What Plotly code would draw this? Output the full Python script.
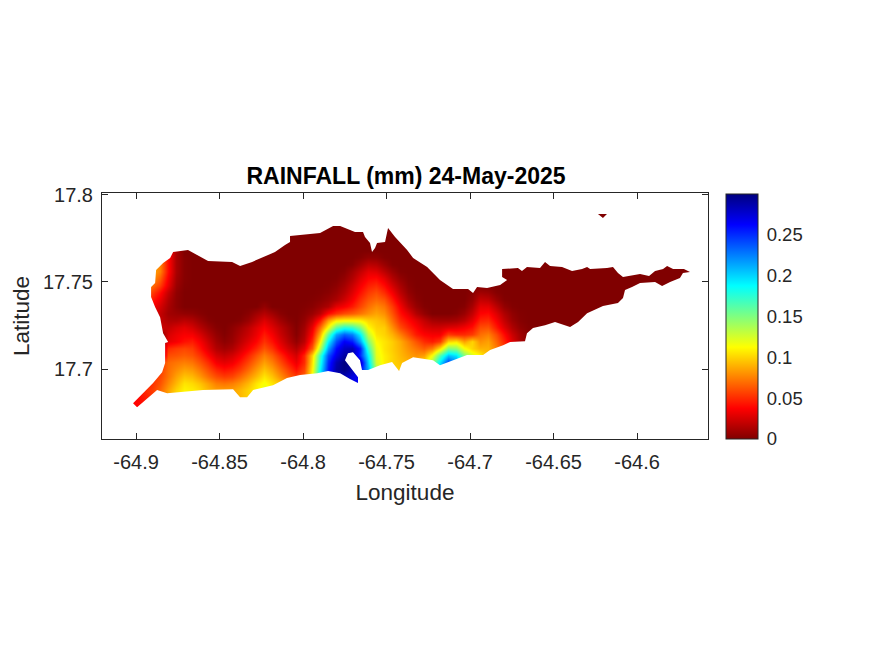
import plotly.graph_objects as go

# grid, columns run west to east and rows north to south
lon = [round(-64.9 + 0.00479 * i, 4) for i in range(71)]
lat = [17.792, 17.788, 17.784, 17.78, 17.776, 17.772, 17.768, 17.764, 17.76, 17.756,
       17.752, 17.748, 17.744, 17.74, 17.736, 17.732, 17.728, 17.724, 17.72, 17.716,
       17.712, 17.708, 17.704, 17.7, 17.696, 17.692, 17.688, 17.684, 17.68]

# rainfall in thousandths of a mm, columns to the east of each row are dry
rain = [
    [],
    [],
    [],
    [],
    [],
    [],
    [0, 0, 70, 60, 40, 12],
    [0, 0, 80, 70, 40, 12, 2, 0, 0, 0,  0, 0, 0, 0, 0, 0, 0, 0, 0, 0,  0, 0, 0, 0, 0, 0, 0, 0, 2, 6,  5, 1],
    [0, 85, 85, 75, 40, 12, 2, 0, 0, 0,  0, 0, 0, 0, 0, 0, 0, 0, 0, 0,  0, 0, 0, 0, 0, 0, 0, 2, 10, 18,  16, 8, 1],
    [0, 90, 88, 75, 40, 12, 2, 0, 0, 0,  0, 0, 0, 0, 0, 0, 0, 0, 0, 0,  0, 0, 0, 0, 0, 0, 2, 10, 20, 30,  28, 18, 8, 1],
    [85, 85, 80, 65, 35, 10, 2, 0, 0, 0,  0, 0, 0, 0, 0, 0, 0, 0, 0, 0,  0, 0, 0, 0, 0, 1, 6, 15, 28, 38,  40, 30, 16, 6, 1],
    [75, 75, 70, 55, 30, 8, 1, 0, 0, 0,  0, 0, 0, 0, 0, 0, 0, 0, 0, 0,  0, 0, 0, 0, 1, 4, 11, 22, 35, 46,  50, 40, 25, 12, 3],
    [65, 65, 55, 40, 20, 5, 0, 0, 0, 0,  0, 0, 0, 0, 0, 0, 0, 0, 0, 0,  0, 0, 0, 1, 3, 8, 16, 28, 42, 54,  60, 50, 35, 18, 6, 1, 0, 0, 0, 0,  0, 0, 3, 10, 8, 2],
    [55, 50, 45, 32, 15, 4, 0, 0, 0, 0,  0, 0, 0, 0, 0, 0, 0, 0, 0, 0,  0, 0, 1, 3, 7, 13, 23, 35, 50, 62,  68, 62, 45, 26, 11, 3, 0, 0, 0, 0,  0, 0, 6, 20, 18, 8, 1],
    [40, 40, 35, 25, 12, 4, 0, 0, 0, 0,  0, 0, 0, 0, 0, 0, 6, 0, 0, 0,  0, 1, 3, 8, 14, 30, 36, 45, 58, 70,  78, 72, 55, 35, 18, 7, 1, 0, 0, 0,  0, 2, 12, 30, 30, 18, 6, 1],
    [30, 30, 30, 20, 10, 8, 6, 5, 2, 0,  0, 0, 0, 0, 3, 10, 16, 10, 3, 0,  0, 3, 8, 18, 40, 52, 60, 65, 72, 80,  86, 80, 62, 42, 30, 15, 6, 0, 0, 0,  2, 8, 20, 38, 40, 28, 14, 5, 1],
    [0, 0, 25, 20, 14, 14, 18, 15, 8, 2,  0, 0, 0, 2, 8, 18, 28, 20, 10, 3,  0, 6, 20, 45, 85, 108, 112, 112, 110, 100,  96, 90, 70, 50, 40, 30, 20, 12, 10, 10,  12, 18, 30, 48, 50, 36, 20, 8, 2],
    [0, 0, 0, 22, 20, 26, 30, 25, 16, 8,  2, 0, 4, 10, 18, 28, 37, 28, 18, 9,  1, 10, 32, 70, 115, 160, 178, 172, 150, 112,  100, 98, 80, 60, 48, 38, 28, 24, 24, 28,  30, 35, 42, 60, 62, 45, 28, 14, 5, 1],
    [0, 0, 0, 0, 26, 32, 36, 35, 26, 15,  6, 1, 6, 14, 22, 32, 45, 35, 22, 12,  2, 14, 40, 90, 160, 215, 235, 225, 190, 130,  105, 100, 90, 75, 60, 45, 38, 35, 35, 55,  50, 50, 55, 70, 75, 60, 40, 22, 10, 2],
    [0, 0, 0, 0, 30, 35, 42, 45, 35, 22,  10, 4, 8, 18, 28, 38, 52, 42, 28, 16,  6, 18, 50, 110, 190, 240, 265, 255, 215, 150,  112, 105, 98, 88, 75, 62, 50, 45, 55, 100,  105, 85, 100, 80, 85, 68, 48, 28, 12, 3],
    [0, 0, 0, 0, 50, 55, 58, 55, 42, 28,  15, 10, 14, 25, 36, 48, 62, 52, 36, 24,  15, 30, 65, 135, 215, 260, 280, 285, 255, 170,  118, 105, 98, 90, 80, 72, 65, 75, 105, 150,  145, 115, 100, 90, 90, 75, 55, 35],
    [0, 0, 0, 0, 60, 62, 65, 62, 52, 38,  25, 20, 25, 35, 48, 62, 75, 65, 50, 35,  25, 48, 100, 172, 240, 270, 290, 290, 250, 190,  120, 108, 100, 92, 85, 80, 85, 115, 165, 205,  195, 150, 125, 110, 90, 80, 60],
    [0, 0, 0, 55, 68, 72, 75, 72, 62, 50,  35, 30, 34, 45, 58, 72, 85, 75, 60, 45,  32, 50, 105, 180, 250, 285, 300, 295, 280, 200,  125, 108, 100, 95, 90, 90, 105, 140, 195, 245,  220, 165, 125, 105, 85],
    [0, 0, 0, 55, 70, 78, 85, 82, 72, 60,  48, 42, 46, 55, 68, 82, 95, 85, 70, 56,  42, 58, 110, 190, 255, 290, 298, 285, 265, 210,  135, 110, 102, 98, 95, 95, 110, 145, 200, 260,  230, 170],
    [0, 0, 50, 58, 72, 85, 95, 92, 82, 70,  60, 55, 58, 68, 80, 92, 105, 95, 80, 66,  55, 65, 115, 190, 250, 280, 285, 272, 262, 200],
    [0, 48, 52, 62, 78, 92, 105, 102, 95, 85,  75, 72, 75, 82, 92, 105, 115, 105, 95, 80,  70, 80, 115, 190, 250, 275, 280, 270, 260, 200],
    [40, 48, 55, 68, 85, 100, 110, 108, 102, 92,  85, 85, 85, 92, 100, 110, 120, 110, 100, 85],
    [38, 45, 52, 65, 85, 100, 110, 108, 102, 92,  85, 85, 85, 92, 100, 110, 120],
    [38, 42, 50, 65],
]

# coast, walked north side eastward then south side back
coast_lon = [-64.9018, -64.8898, -64.8844, -64.8826, -64.8826, -64.8808, -64.8838, -64.8856, -64.8886, -64.891,
             -64.891, -64.8886, -64.888, -64.8838, -64.8796, -64.8778, -64.8689, -64.8617, -64.8569, -64.8425,
             -64.8377, -64.8305, -64.824, -64.8168, -64.8108, -64.8078, -64.8078, -64.7898, -64.782, -64.7778,
             -64.7689, -64.7641, -64.7629, -64.7599, -64.7587, -64.7569, -64.7557, -64.7509, -64.7491, -64.7449,
             -64.7377, -64.7341, -64.7257, -64.718, -64.7102, -64.7012, -64.6982, -64.6958, -64.6898, -64.682,
             -64.6778, -64.6808, -64.6808, -64.6713, -64.6689, -64.6659, -64.6581, -64.6551, -64.6521, -64.6449,
             -64.6389, -64.6329, -64.6299, -64.6281, -64.618, -64.6144, -64.6114, -64.6084, -64.5982, -64.5928,
             -64.5892, -64.5844, -64.582, -64.5784, -64.5719, -64.5683, -64.5725, -64.5743, -64.5802, -64.585,
             -64.5892, -64.5982, -64.603, -64.6072, -64.6084, -64.6114, -64.6204, -64.6299, -64.6353, -64.6401,
             -64.6491, -64.6551, -64.6623, -64.6659, -64.6671, -64.676, -64.6802, -64.688, -64.6922, -64.7018,
             -64.718, -64.7222, -64.7341, -64.7407, -64.7425, -64.7467, -64.7539, -64.7611, -64.7647, -64.7659,
             -64.7701, -64.7731, -64.7749, -64.7719, -64.7671, -64.7671, -64.7719, -64.7778, -64.785, -64.7916,
             -64.8018, -64.8096, -64.818, -64.8299, -64.8335, -64.8377, -64.8419, -64.8599, -64.8814, -64.8874,
             -64.8994]
coast_lat = [17.6804, 17.6919, 17.6982, 17.7034, 17.7149, 17.7155, 17.7206, 17.7298, 17.7356, 17.7413,
             17.7471, 17.7494, 17.7569, 17.7609, 17.7638, 17.7672, 17.7684, 17.7643, 17.762, 17.7615,
             17.7592, 17.7615, 17.7643, 17.7672, 17.7712, 17.773, 17.7764, 17.7781, 17.7822, 17.7822,
             17.7787, 17.7787, 17.7758, 17.7724, 17.7672, 17.7695, 17.7724, 17.773, 17.781, 17.7758,
             17.7684, 17.7638, 17.7586, 17.7511, 17.7459, 17.7459, 17.7436, 17.7471, 17.7465, 17.7482,
             17.7511, 17.7528, 17.7574, 17.758, 17.7563, 17.7586, 17.758, 17.7615, 17.7592, 17.7586,
             17.7563, 17.7574, 17.7586, 17.7574, 17.758, 17.7586, 17.7551, 17.7528, 17.7546, 17.7534,
             17.7563, 17.7574, 17.7592, 17.7574, 17.7574, 17.7557, 17.7551, 17.7523, 17.75, 17.7477,
             17.75, 17.7494, 17.7471, 17.7454, 17.7408, 17.7379, 17.7362, 17.7321, 17.727, 17.7241,
             17.727, 17.7252, 17.7235, 17.7206, 17.716, 17.7155, 17.7137, 17.7109, 17.708, 17.708,
             17.7022, 17.7051, 17.7068, 17.7034, 17.6988, 17.704, 17.7022, 17.6994, 17.6994, 17.7051,
             17.7097, 17.7091, 17.7051, 17.7011, 17.6953, 17.6919, 17.6942, 17.6976, 17.6988, 17.6976,
             17.6965, 17.6948, 17.6907, 17.6879, 17.6838, 17.6838, 17.6884, 17.6879, 17.6861, 17.6879,
             17.6781]
islet_lon = [-64.6234, -64.618, -64.6204]
islet_lat = [17.7891, 17.7891, 17.7868]

x_range = [-64.9204, -64.5575]
y_range = [17.6598, 17.8011]
cbar_ticks = [0, 0.05, 0.1, 0.15, 0.2, 0.25]
cbar_labels = ['0', '0.05', '0.1', '0.15', '0.2', '0.25']

jet_r = [[0, 'rgb(128,0,0)'], [0.125, 'rgb(255,0,0)'], [0.375, 'rgb(255,255,0)'],
         [0.625, 'rgb(0,255,255)'], [0.875, 'rgb(0,0,255)'], [1, 'rgb(0,0,128)']]

z = [[v / 1000 for v in row] + [0] * (len(lon) - len(row)) for row in rain]

fig = go.Figure()
fig.add_trace(go.Heatmap(x=lon, y=lat, z=z, zmin=0, zmax=0.3, zsmooth='best',
                         colorscale=jet_r,
                         colorbar=dict(thickness=32, thicknessmode='pixels', len=245, lenmode='pixels',
                                       x=1.0297, xanchor='left', xpad=0, y=0, yanchor='bottom', ypad=0,
                                       tickvals=cbar_ticks, ticktext=cbar_labels, ticks='outside', ticklen=5,
                                       tickcolor='white', outlinecolor='#262626', outlinewidth=1,
                                       tickfont=dict(size=18.5, color='#262626'))))

# everything off the island is white, land shows through the hole
sea_lon = [x_range[0], x_range[0], x_range[1], x_range[1], None] + coast_lon + [None] + islet_lon
sea_lat = [y_range[1], y_range[0], y_range[0], y_range[1], None] + coast_lat + [None] + islet_lat
fig.add_trace(go.Scatter(x=sea_lon, y=sea_lat, mode='lines', fill='toself', fillcolor='white',
                         line=dict(width=0, color='white'), showlegend=False, hoverinfo='skip'))

fig.update_layout(width=875, height=656, autosize=False, paper_bgcolor='white', plot_bgcolor='white',
                  font=dict(family='Liberation Sans', color='#262626'),
                  margin=dict(l=94, r=175, t=185, b=225),
                  title=dict(text='<b>RAINFALL (mm) 24-May-2025</b>', x=0.4549, xanchor='center',
                             y=0.731, yanchor='bottom', font=dict(size=23, color='black')))
fig.update_xaxes(range=x_range, tickvals=[-64.9, -64.85, -64.8, -64.75, -64.7, -64.65, -64.6],
                 ticktext=['-64.9', '-64.85', '-64.8', '-64.75', '-64.7', '-64.65', '-64.6'],
                 ticks='inside', ticklen=6, tickcolor='#262626', showline=True, linecolor='#262626', linewidth=1,
                 mirror='allticks', showgrid=False, zeroline=False, tickfont=dict(size=20), ticklabelstandoff=5,
                 title=dict(text='Longitude', font=dict(size=22.5), standoff=12))
fig.update_yaxes(range=y_range, tickvals=[17.7, 17.75, 17.8], ticktext=['17.7', '17.75', '17.8'],
                 ticks='inside', ticklen=6, tickcolor='#262626', showline=True, linecolor='#262626', linewidth=1,
                 mirror='allticks', showgrid=False, zeroline=False, tickfont=dict(size=20), ticklabelstandoff=4,
                 title=dict(text='Latitude', font=dict(size=22.5), standoff=7))

fig.write_html("out.html")
